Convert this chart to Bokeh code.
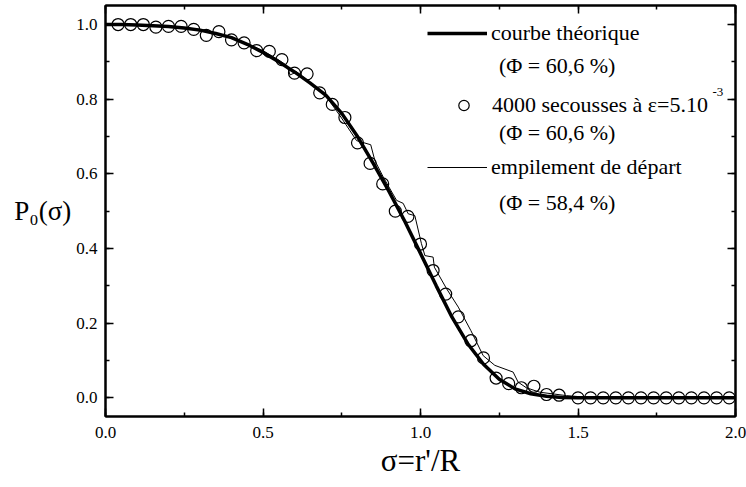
from bokeh.plotting import figure
from bokeh.models import (Legend, LegendItem, Label, LinearAxis, Range1d,
                          SingleIntervalTicker, NumeralTickFormatter,
                          CustomLabelingPolicy)
from bokeh.embed import file_html
from bokeh.resources import INLINE

# ---- data ----
sigma_theory = [0.00, 0.05, 0.10, 0.15, 0.20, 0.25, 0.30, 0.35, 0.40, 0.45,
                0.50, 0.55, 0.60, 0.65, 0.70, 0.75, 0.80, 0.85, 0.90, 0.95,
                1.00, 1.05, 1.10, 1.15, 1.20, 1.25, 1.30, 1.35, 1.40, 1.45,
                1.50, 1.60, 1.80, 2.00]
p_theory = [1.000, 1.000, 0.999, 0.997, 0.995, 0.991, 0.985, 0.976, 0.965, 0.947,
            0.925, 0.900, 0.873, 0.843, 0.810, 0.762, 0.700, 0.628, 0.553, 0.473,
            0.387, 0.300, 0.216, 0.145, 0.090, 0.050, 0.024, 0.011, 0.004, 0.001,
            0.000, 0.000, 0.000, 0.000]

sigma_start = [0.00, 0.10, 0.20, 0.30, 0.40, 0.50, 0.55, 0.576, 0.586, 0.607,
               0.65, 0.70, 0.745, 0.797, 0.842, 0.855, 0.882, 0.924, 0.945, 0.961,
               0.982, 1.003, 1.014, 1.040, 1.044, 1.083, 1.120, 1.160, 1.199, 1.236,
               1.294, 1.310, 1.336, 1.379, 1.463, 1.55, 2.00]
p_start = [1.000, 0.999, 0.995, 0.987, 0.966, 0.930, 0.905, 0.890, 0.865, 0.873,
           0.845, 0.808, 0.755, 0.689, 0.678, 0.636, 0.591, 0.529, 0.521, 0.493,
           0.488, 0.413, 0.381, 0.377, 0.350, 0.292, 0.243, 0.180, 0.113, 0.087,
           0.069, 0.042, 0.027, 0.015, 0.006, 0.000, 0.000]

sigma_shaken = [0.04, 0.08, 0.12, 0.16, 0.20, 0.24, 0.28, 0.32, 0.36, 0.40,
                0.44, 0.48, 0.52, 0.56, 0.60, 0.64, 0.68, 0.72, 0.76, 0.80,
                0.84, 0.88, 0.92, 0.96, 1.00, 1.04, 1.08, 1.12, 1.16, 1.20,
                1.24, 1.28, 1.32, 1.36, 1.40, 1.44, 1.50, 1.54, 1.58, 1.62,
                1.66, 1.70, 1.74, 1.78, 1.82, 1.86, 1.90, 1.94, 1.98]
p_shaken = [1.000, 1.000, 1.000, 0.993, 0.995, 0.995, 0.987, 0.971, 0.981, 0.959,
            0.951, 0.930, 0.928, 0.906, 0.870, 0.868, 0.817, 0.786, 0.751, 0.683,
            0.628, 0.573, 0.500, 0.486, 0.412, 0.341, 0.278, 0.217, 0.153, 0.107,
            0.053, 0.038, 0.027, 0.031, 0.009, 0.007, 0.000, 0.000, 0.000, 0.000,
            0.000, 0.000, 0.000, 0.000, 0.000, 0.000, 0.000, 0.000, 0.000]

label_theory = "courbe théorique"
label_shaken = "4000 secousses à ε=5.10"
label_shaken_exp = "-3"
label_start = "empilement de départ"
phi_theory = "(Φ = 60,6 %)"
phi_shaken = "(Φ = 60,6 %)"
phi_start = "(Φ = 58,4 %)"
x_title = "σ=r'/R"
y_title = "P₀(σ)"

FONT = "Liberation Serif"

p = figure(width=746, height=487, output_backend="svg", toolbar_location=None,
           x_range=Range1d(0, 2), y_range=Range1d(-0.050, 1.051),
           min_border_left=105, min_border_right=11, min_border_top=5,
           min_border_bottom=71, x_axis_location=None, y_axis_location=None)
p.xgrid.visible = False
p.ygrid.visible = False
p.outline_line_color = "black"
p.outline_line_width = 2
p.background_fill_color = "white"
p.border_fill_color = "white"

hide_labels = CustomLabelingPolicy(
    code="for (const i of Array.from(indices)) { indices.unset(i) }\nreturn indices")


def style_axis(ax, labels=True):
    ax.axis_line_width = 2
    ax.axis_line_color = "black"
    ax.major_tick_in = 8
    ax.major_tick_out = 0
    ax.minor_tick_in = 4
    ax.minor_tick_out = 0
    ax.major_tick_line_width = 1.5
    ax.minor_tick_line_width = 1.5
    ax.major_tick_line_color = "black"
    ax.minor_tick_line_color = "black"
    ax.formatter = NumeralTickFormatter(format="0.0")
    if labels:
        ax.major_label_text_font = FONT
        ax.major_label_text_font_size = "17px"
        ax.major_label_text_color = "black"
    else:
        ax.major_label_policy = hide_labels
        ax.major_label_text_font_size = "0px"
        ax.major_label_standoff = 0


xb = LinearAxis(ticker=SingleIntervalTicker(interval=0.5, num_minor_ticks=2))
style_axis(xb)
xb.major_label_standoff = 10
xb.axis_label = x_title
xb.axis_label_text_font = FONT
xb.axis_label_text_font_size = "31px"
xb.axis_label_text_font_style = "normal"
xb.axis_label_text_color = "black"
xb.axis_label_standoff = 2
p.add_layout(xb, "below")

yl = LinearAxis(ticker=SingleIntervalTicker(interval=0.2, num_minor_ticks=2))
style_axis(yl)
yl.major_label_standoff = 8
yl.axis_label = y_title
yl.axis_label_orientation = "horizontal"
yl.axis_label_text_font = FONT
yl.axis_label_text_font_size = "27px"
yl.axis_label_text_font_style = "normal"
yl.axis_label_text_color = "black"
yl.axis_label_standoff = 2
p.add_layout(yl, "left")

xt = LinearAxis(ticker=SingleIntervalTicker(interval=0.5, num_minor_ticks=2))
style_axis(xt, labels=False)
p.add_layout(xt, "above")

yr = LinearAxis(ticker=SingleIntervalTicker(interval=0.2, num_minor_ticks=2))
style_axis(yr, labels=False)
p.add_layout(yr, "right")

thin = p.line(sigma_start, p_start, line_color="black", line_width=1)
thick = p.line(sigma_theory, p_theory, line_color="black", line_width=3.5)
circ = p.scatter(sigma_shaken, p_shaken, marker="circle", size=12,
                 fill_color=None, line_color="black", line_width=1.2)


def make_legend(renderer, text, loc, gw):
    return Legend(items=[LegendItem(label=text, renderers=[renderer])],
                  location=loc, orientation="vertical", glyph_width=gw,
                  glyph_height=26, label_height=26, label_standoff=4,
                  padding=0, margin=0, spacing=0, border_line_color=None,
                  background_fill_alpha=0, label_text_font=FONT,
                  label_text_font_size="22px", label_text_color="black")


p.add_layout(make_legend(thick, label_theory, (322, 370), 60))
p.add_layout(make_legend(circ, label_shaken, (334, 298), 49))
p.add_layout(make_legend(thin, label_start, (322, 236), 60))

for txt, yv in [(phi_theory, 0.890), (phi_shaken, 0.7115), (phi_start, 0.524)]:
    p.add_layout(Label(x=1.249, y=yv, text=txt, text_font=FONT,
                       text_font_size="22px", text_baseline="middle",
                       text_color="black"))

p.add_layout(Label(x=1.927, y=0.818, text=label_shaken_exp, text_font=FONT,
                   text_font_size="13px", text_baseline="middle",
                   text_color="black"))

open("out.html", "w").write(file_html(p, INLINE))
